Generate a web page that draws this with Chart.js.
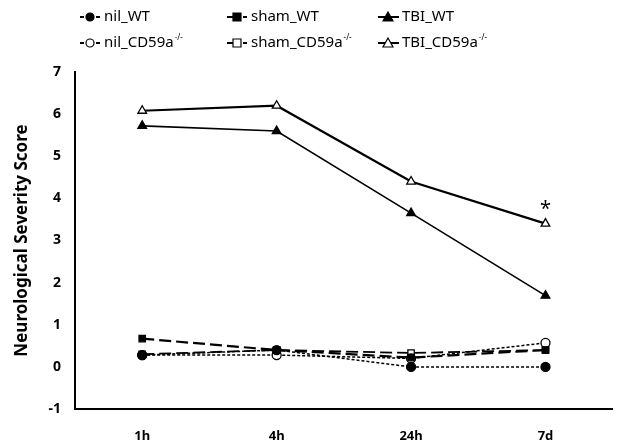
<!DOCTYPE html>
<html>
<head>
<meta charset="utf-8">
<script src="https://cdn.jsdelivr.net/npm/chart.js@4"></script>
<style>
  html, body { margin: 0; padding: 0; background: #fff; }
  #wrap { width: 619px; height: 443px; }
</style>
</head>
<body>
<div id="wrap"><canvas id="nssChart"></canvas></div>
<script>
// data
const timePoints = ['1h', '4h', '24h', '7d'];
const nilWT = [0.28, 0.4, 0.0, 0.0];
const nilCD59 = [0.28, 0.28, 0.2, 0.57];
const shamWT = [0.67, 0.4, 0.22, 0.4];
const shamCD59 = [0.3, 0.4, 0.33, 0.4];
const tbiWT = [5.72, 5.6, 3.65, 1.69];
const tbiCD59 = [6.08, 6.2, 4.4, 3.4];
const yTicks = [-1, 0, 1, 2, 3, 4, 5, 6, 7];

const sup = '-/-';

function makeSet(label, data, pointStyle, filled, dash, width) {
    return {
        label: label,
        data: data,
        borderColor: '#000',
        borderWidth: width,
        borderDash: dash,
        pointStyle: pointStyle,
        pointRadius: pointStyle === 'triangle' ? 5 : 4.5,
        pointBackgroundColor: filled ? '#000' : '#fff',
        pointBorderColor: '#000',
        pointBorderWidth: 1.3,
        fill: false,
        tension: 0
    };
}

const datasets = [
    makeSet('nil_WT', nilWT, 'circle', true, [3, 2], 1.5),
    makeSet('sham_WT', shamWT, 'rect', true, [12, 5], 2.2),
    makeSet('TBI_WT', tbiWT, 'triangle', true, [], 1.6),
    makeSet('nil_CD59a', nilCD59, 'circle', false, [3, 2], 1.5),
    makeSet('sham_CD59a', shamCD59, 'rect', false, [12, 5], 1.8),
    makeSet('TBI_CD59a', tbiCD59, 'triangle', false, [], 2.2)
];

// legend drawn on the canvas, 3 columns x 2 rows
const legendPlugin = {
    id: 'topLegend',
    afterDraw(chart) {
        const ctx = chart.ctx;
        const cols = [80, 227, 378];
        const rows = [17, 43];
        chart.data.datasets.forEach((ds, i) => {
            const x0 = cols[i % 3];
            const y = rows[Math.floor(i / 3)];
            const kind = i % 3; // 0 nil, 1 sham, 2 TBI
            ctx.save();
            ctx.strokeStyle = '#000';
            ctx.lineWidth = 2;
            ctx.beginPath();
            if (kind === 2) {
                ctx.moveTo(x0, y); ctx.lineTo(x0 + 21, y);
            } else if (kind === 1) {
                ctx.moveTo(x0, y); ctx.lineTo(x0 + 8, y);
                ctx.moveTo(x0 + 16, y); ctx.lineTo(x0 + 20, y);
            } else {
                ctx.moveTo(x0, y); ctx.lineTo(x0 + 4, y);
                ctx.moveTo(x0 + 16, y); ctx.lineTo(x0 + 20, y);
            }
            ctx.stroke();
            ctx.fillStyle = ds.pointBackgroundColor;
            ctx.lineWidth = 1.2;
            ctx.beginPath();
            if (ds.pointStyle === 'circle') ctx.arc(x0 + 10, y, 4, 0, Math.PI * 2);
            else if (ds.pointStyle === 'rect') ctx.rect(x0 + 6, y - 4, 8, 8);
            else { ctx.moveTo(x0 + 10, y - 5); ctx.lineTo(x0 + 15, y + 4); ctx.lineTo(x0 + 5, y + 4); ctx.closePath(); }
            ctx.fill();
            ctx.stroke();
            ctx.fillStyle = '#000';
            ctx.font = '15px "Noto Sans", sans-serif';
            ctx.textBaseline = 'middle';
            ctx.textAlign = 'left';
            const tx = x0 + 24;
            ctx.fillText(ds.label, tx, y);
            if (i >= 3) {
                const w = ctx.measureText(ds.label).width;
                ctx.font = '8px "Noto Sans", sans-serif';
                ctx.fillText(sup, tx + w + 1, y - 5);
            }
            ctx.restore();
        });

        // significance mark above TBI_CD59a at 7d
        const xs = chart.scales.x, ys = chart.scales.y;
        const last = timePoints.length - 1;
        ctx.save();
        ctx.fillStyle = '#000';
        ctx.font = '20px "Noto Sans", sans-serif';
        ctx.textAlign = 'center';
        ctx.textBaseline = 'middle';
        ctx.fillText('*', xs.getPixelForValue(last), ys.getPixelForValue(tbiCD59[last]) - 14);
        ctx.restore();
    }
};

new Chart(document.getElementById('nssChart').getContext('2d'), {
    type: 'line',
    data: { labels: timePoints, datasets: datasets },
    options: {
        responsive: true,
        maintainAspectRatio: false,
        animation: false,
        layout: { padding: { top: 72, right: 0, left: 0, bottom: 0 } },
        plugins: {
            legend: { display: false },
            tooltip: { enabled: false }
        },
        scales: {
            x: {
                offset: true,
                grid: { display: false, drawTicks: false },
                border: { color: '#000', width: 2 },
                ticks: {
                    color: '#000',
                    padding: 19,
                    font: { family: '"Noto Sans", sans-serif', size: 13, weight: 'bold' }
                },
                afterFit(scale) { scale.height = 34; }
            },
            y: {
                min: -1,
                max: 7,
                afterBuildTicks(scale) { scale.ticks = yTicks.map(v => ({ value: v })); },
                grid: { display: false, drawOnChartArea: false, drawTicks: true, tickLength: 6, tickColor: '#000' },
                border: { color: '#000', width: 2 },
                ticks: {
                    color: '#000',
                    padding: 8,
                    font: { family: '"Noto Sans", sans-serif', size: 14, weight: 'bold' }
                },
                title: {
                    display: true,
                    text: 'Neurological Severity Score',
                    color: '#000',
                    padding: { top: 12, bottom: 4 },
                    font: { family: '"Noto Sans", sans-serif', size: 17, weight: 'bold' }
                },
                afterFit(scale) { scale.width = 75; }
            }
        }
    },
    plugins: [legendPlugin]
});
</script>
</body>
</html>
